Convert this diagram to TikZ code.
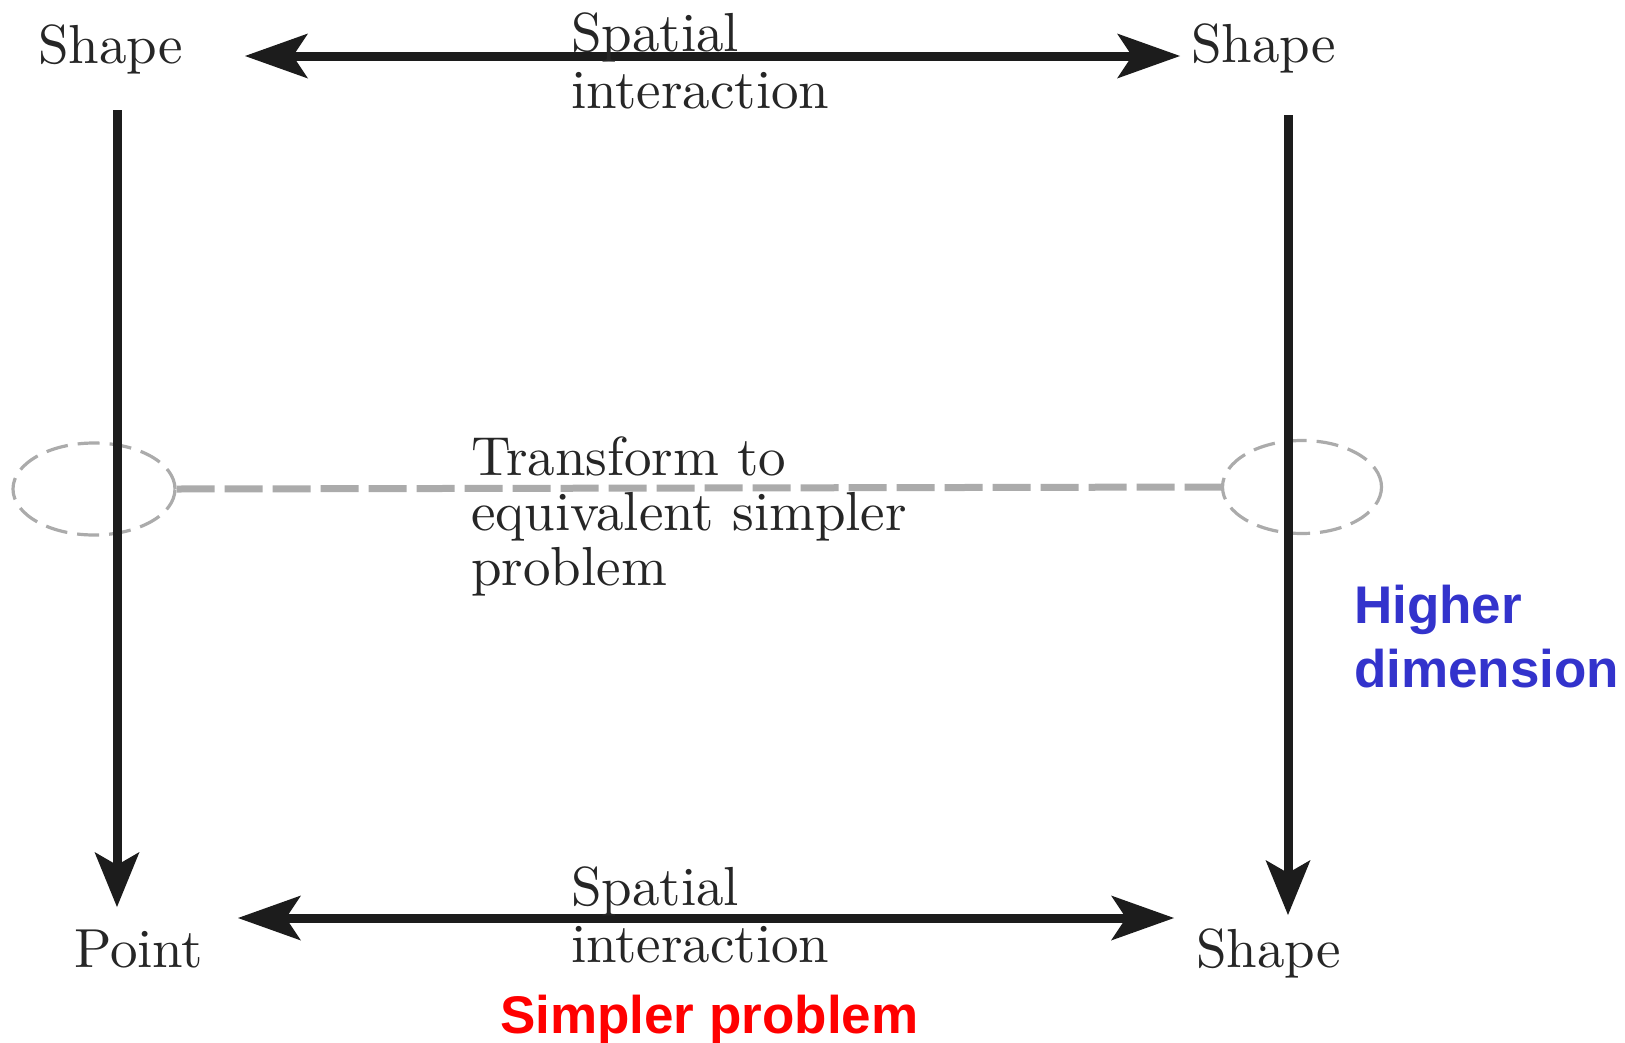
\documentclass[tikz,border=0pt]{standalone}
\usepackage{fontspec}
\newfontfamily\labelsans{Liberation Sans}
\usetikzlibrary{arrows.meta,shapes.geometric}
\definecolor{ink}{HTML}{262626}
\definecolor{arrowc}{HTML}{1C1C1C}
\definecolor{dashc}{HTML}{ABABAB}
\definecolor{ringc}{HTML}{ABABAB}
\definecolor{bluec}{HTML}{3333CC}
\definecolor{redc}{HTML}{FF0000}
\begin{document}
\begin{tikzpicture}[x=1pt,y=-1pt,
  lbl/.style={inner sep=0pt, scale=5.5, text=ink, font=\fontsize{10}{10.36}\selectfont, align=left, anchor=base west},
  harr/.style={line width=9pt, draw=arrowc, {Stealth[length=63pt,width=45pt,inset=15pt,line width=0pt]}-{Stealth[length=63pt,width=45pt,inset=15pt,line width=0pt]}},
  varr/.style={line width=9pt, draw=arrowc, -{Stealth[length=55pt,width=45pt,inset=13pt,line width=0pt]}},
  ring/.style={ellipse, draw=ringc, line width=3.2pt, dash pattern=on 22pt off 10pt, inner sep=0pt},
  note/.style={inner sep=0pt, anchor=base west, align=left, font=\labelsans\bfseries\fontsize{53}{64}\selectfont}
]
\path[use as bounding box] (0,0) rectangle (1625,1042);

% corner labels
\node[lbl] (sTL) at (37,63) {Shape};
\node[lbl] (sTR) at (1190,62) {Shape};
\node[lbl] (pBL) at (73,967) {Point};
\node[lbl] (sBR) at (1195,967) {Shape};

% arrow end points
\coordinate (tA) at (245,56);
\coordinate (tB) at (1180,56);
\coordinate (bA) at (238,918);
\coordinate (bB) at (1174,918);
\coordinate (lA) at (117,110);
\coordinate (lB) at (117,907);
\coordinate (rA) at (1288,115);
\coordinate (rB) at (1288,915);

% rings and dashed connector
\node[ring, minimum width=162pt, minimum height=92pt] (eL) at (94,489) {};
\node[ring, minimum width=159pt, minimum height=93pt] (eR) at (1302,487) {};
\draw[draw=dashc, line width=7pt, dash pattern=on 38pt off 10pt] (eL.east) -- (eR.west);

% arrows
\draw[varr] (lA) -- (lB);
\draw[varr] (rA) -- (rB);
\draw[harr] (tA) -- (tB);
\draw[harr] (bA) -- (bB);

% middle labels (base anchor = last line's baseline)
\node[lbl] (siT) at (570,108) {Spatial\\interaction};
\node[lbl] (siB) at (570,962) {Spatial\\interaction};
\node[lbl, font=\fontsize{10}{10}\selectfont] (tr) at (470,585) {Transform to\\equivalent simpler\\problem};

% coloured notes
\node[note, text=bluec] (hd) at (1354,687) {Higher\\dimension};
\node[note, text=redc] (sp) at (500,1033) {Simpler problem};
\end{tikzpicture}
\end{document}
